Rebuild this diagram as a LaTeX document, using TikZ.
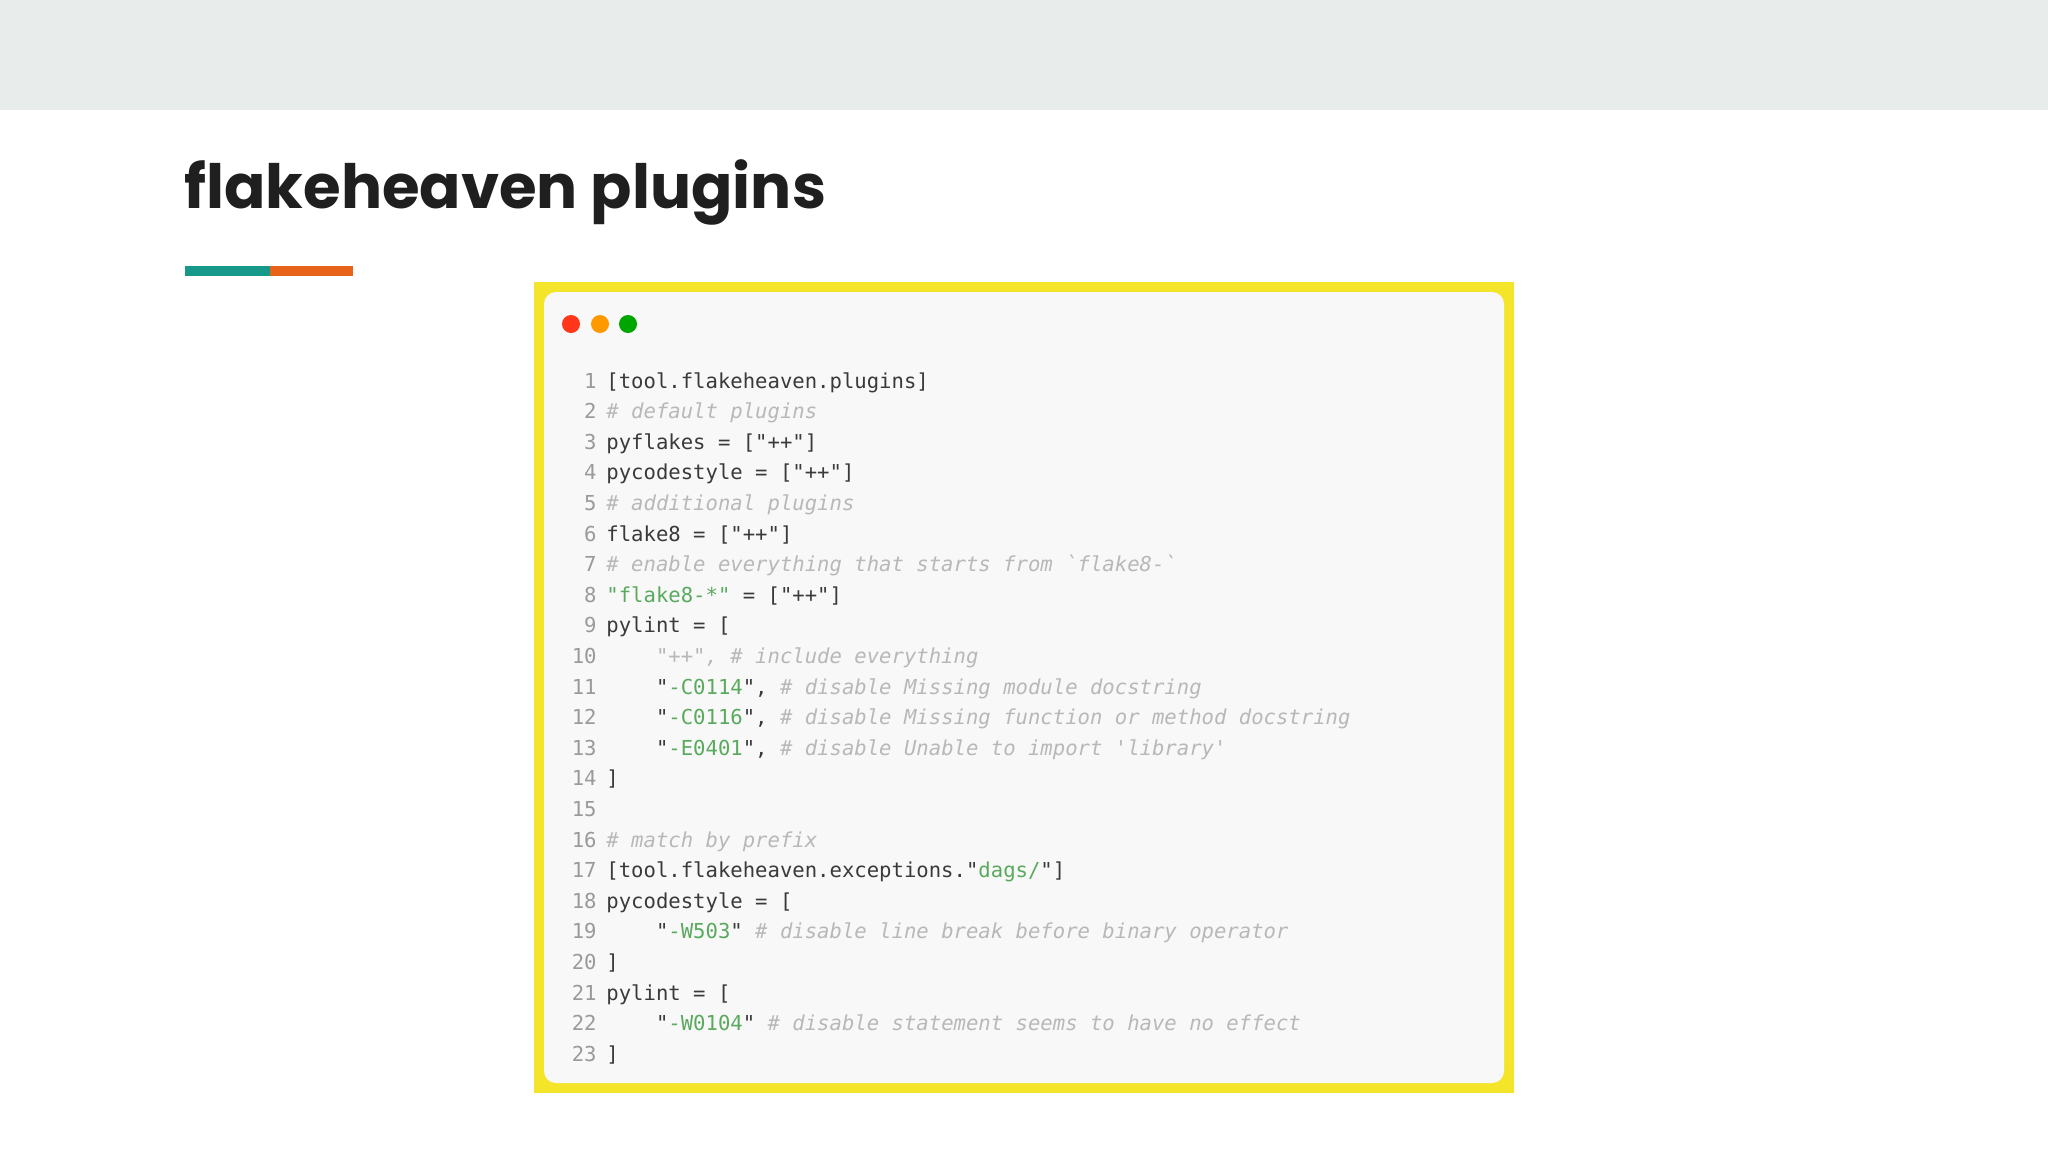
\documentclass[tikz,border=0pt]{standalone}
\usepackage{fontspec}
\newfontfamily\titlefont{Poppins}
\newfontfamily\code{DejaVu Sans Mono}
\definecolor{band}{HTML}{E8ECEB}
\definecolor{teal}{HTML}{17998A}
\definecolor{orng}{HTML}{E8631A}
\definecolor{yel}{HTML}{F5E52A}
\definecolor{panel}{HTML}{F8F8F9}
\definecolor{txt}{HTML}{3A3A3A}
\definecolor{cmt}{HTML}{B8B8B8}
\definecolor{str}{HTML}{5AAA5E}
\definecolor{num}{HTML}{9A9A9A}
\newcommand{\cm}[1]{\textcolor{cmt}{\itshape #1}}
\newcommand{\st}[1]{\textcolor{str}{#1}}
\newcommand{\ind}{\hspace*{2.408em}}
\begin{document}
\begin{tikzpicture}[x=0.5pt,y=-0.5pt,
  codeln/.style={anchor=base west,inner sep=0,font=\code\fontsize{10.3}{12}\selectfont,text=txt},
  lnum/.style={anchor=base east,inner sep=0,font=\code\fontsize{10.3}{12}\selectfont,text=num}]
\useasboundingbox (0,0) rectangle (2048,1152);
\fill[white] (0,0) rectangle (2048,1152);
\fill[band] (0,0) rectangle (2048,110);
\node[anchor=base west,inner sep=0,font=\titlefont\bfseries\fontsize{30.5}{36}\selectfont,text=black!88] (title) at (184,208) {flakeheaven plugins};
\fill[teal] (185,266) rectangle (270,276);
\fill[orng] (270,266) rectangle (353,276);
\fill[yel] (534,282) rectangle (1514,1093);
\fill[panel,rounded corners=6] (544,292) rectangle (1504,1083);
\fill[red!75!orange!90!white] (571,324) circle (9);
\fill[orange!80!yellow] (600,324) circle (9);
\fill[green!65!black] (628,324) circle (9);
\foreach \i/\t in {
1/{[tool.flakeheaven.plugins]},
2/{\cm{\# default plugins}},
3/{pyflakes = ["++"]},
4/{pycodestyle = ["++"]},
5/{\cm{\# additional plugins}},
6/{flake8 = ["++"]},
7/{\cm{\# enable everything that starts from \textasciigrave flake8-\textasciigrave}},
8/{\st{"flake8-*"} = ["++"]},
9/{pylint = [},
10/{\ind\cm{"++", \# include everything}},
11/{\ind"\st{-C0114}", \cm{\# disable Missing module docstring}},
12/{\ind"\st{-C0116}", \cm{\# disable Missing function or method docstring}},
13/{\ind"\st{-E0401}", \cm{\# disable Unable to import \textquotesingle library\textquotesingle}},
14/{]},
15/{},
16/{\cm{\# match by prefix}},
17/{[tool.flakeheaven.exceptions."\st{dags/}"]},
18/{pycodestyle = [},
19/{\ind"\st{-W503}" \cm{\# disable line break before binary operator}},
20/{]},
21/{pylint = [},
22/{\ind"\st{-W0104}" \cm{\# disable statement seems to have no effect}},
23/{]}}{
  \node[lnum] (n\i) at (597,{388+(\i-1)*30.6}) {\i};
  \node[codeln] (c\i) at (606,{388+(\i-1)*30.6}) {\strut\t};
}
\end{tikzpicture}
\end{document}
